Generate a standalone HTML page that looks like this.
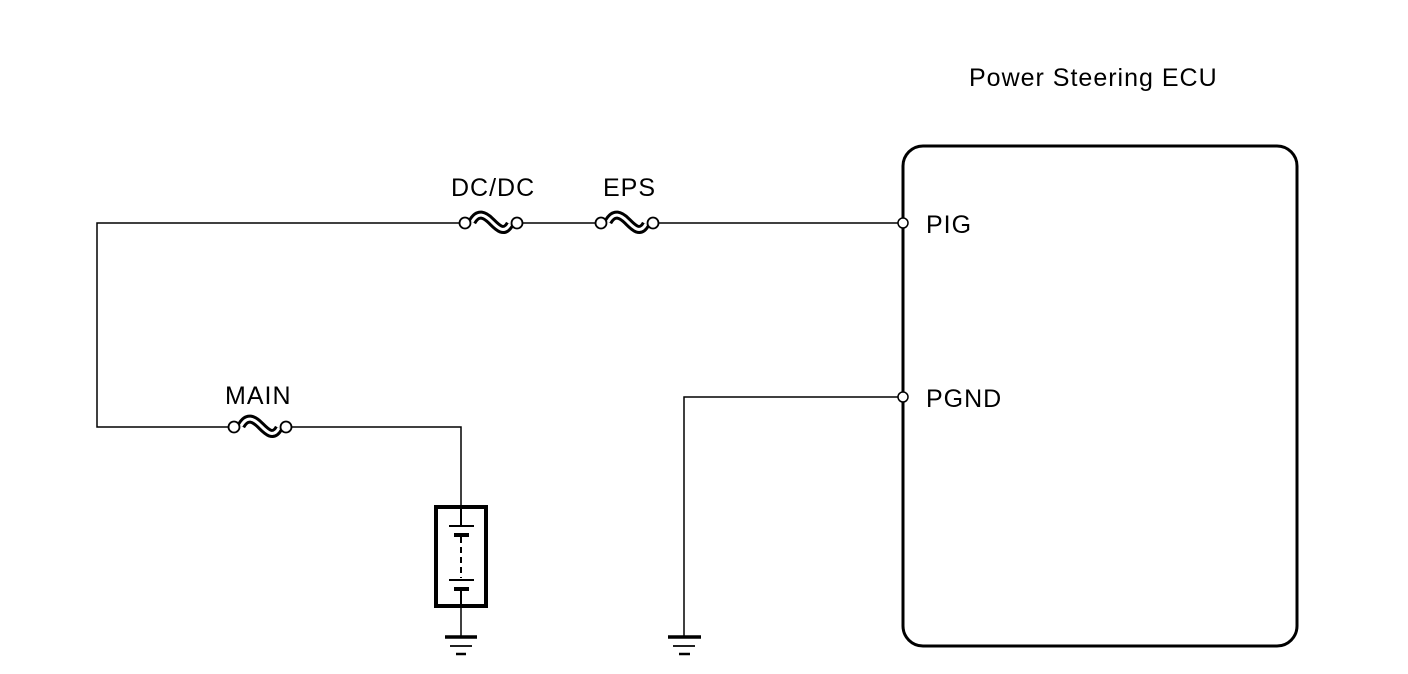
<!DOCTYPE html>
<html><head><style>body{margin:0;background:#fff}svg{display:block}</style></head><body>
<svg width="1408" height="674" xmlns="http://www.w3.org/2000/svg" font-family="Liberation Sans, sans-serif" font-size="25" letter-spacing="1">
<defs>
<g id="fuse">
<path d="M-19,-1 C-13,-12 -6,-8 0,-2 C6,4 13,12 19,1" fill="none" stroke="#000" stroke-width="9"/>
<path d="M-19,-1 C-13,-12 -6,-8 0,-2 C6,4 13,12 19,1" fill="none" stroke="#fff" stroke-width="3"/>
<circle cx="-26" cy="0" r="5.5" fill="#fff" stroke="#000" stroke-width="1.8"/>
<circle cx="26" cy="0" r="5.5" fill="#fff" stroke="#000" stroke-width="1.8"/>
</g>
</defs>
<g stroke="#000" stroke-width="1.5" fill="none">
<path d="M460,223 H97 V427 H228"/>
<path d="M523,223 H595"/>
<path d="M658,223 H898"/>
<path d="M292,427 H461 V506"/>
<path d="M461,607 V637"/>
<path d="M898,397 H684 V637"/>
</g>
<use href="#fuse" x="491" y="223"/>
<use href="#fuse" x="627" y="223"/>
<use href="#fuse" x="260" y="427"/>
<rect x="903" y="146" width="394" height="500" rx="20" fill="none" stroke="#000" stroke-width="3"/>
<circle cx="903" cy="223" r="5" fill="#fff" stroke="#000" stroke-width="1.5"/>
<circle cx="903" cy="397" r="5" fill="#fff" stroke="#000" stroke-width="1.5"/>
<rect x="436" y="507" width="50" height="99" fill="none" stroke="#000" stroke-width="4"/>
<g stroke="#000">
<line x1="461" y1="507" x2="461" y2="526" stroke-width="2"/>
<line x1="449" y1="526" x2="474" y2="526" stroke-width="2"/>
<line x1="454" y1="535" x2="469" y2="535" stroke-width="4"/>
<line x1="461" y1="537" x2="461" y2="578" stroke-width="2" stroke-dasharray="6,4"/>
<line x1="449" y1="580" x2="474" y2="580" stroke-width="2"/>
<line x1="454" y1="589" x2="469" y2="589" stroke-width="4"/>
<line x1="461" y1="589" x2="461" y2="607" stroke-width="2"/>
<line x1="445" y1="637" x2="477" y2="637" stroke-width="3.5"/>
<line x1="450" y1="646" x2="472" y2="646" stroke-width="1.8"/>
<line x1="456" y1="654" x2="466" y2="654" stroke-width="2.5"/>
<line x1="668" y1="637" x2="701" y2="637" stroke-width="3.5"/>
<line x1="673" y1="646" x2="695" y2="646" stroke-width="1.8"/>
<line x1="679" y1="654" x2="690" y2="654" stroke-width="2.5"/>
</g>
<text x="969" y="86">Power Steering ECU</text>
<text x="451" y="196">DC/DC</text>
<text x="603" y="196">EPS</text>
<text x="225" y="404">MAIN</text>
<text x="926" y="233">PIG</text>
<text x="926" y="407">PGND</text>
</svg>
</body></html>
